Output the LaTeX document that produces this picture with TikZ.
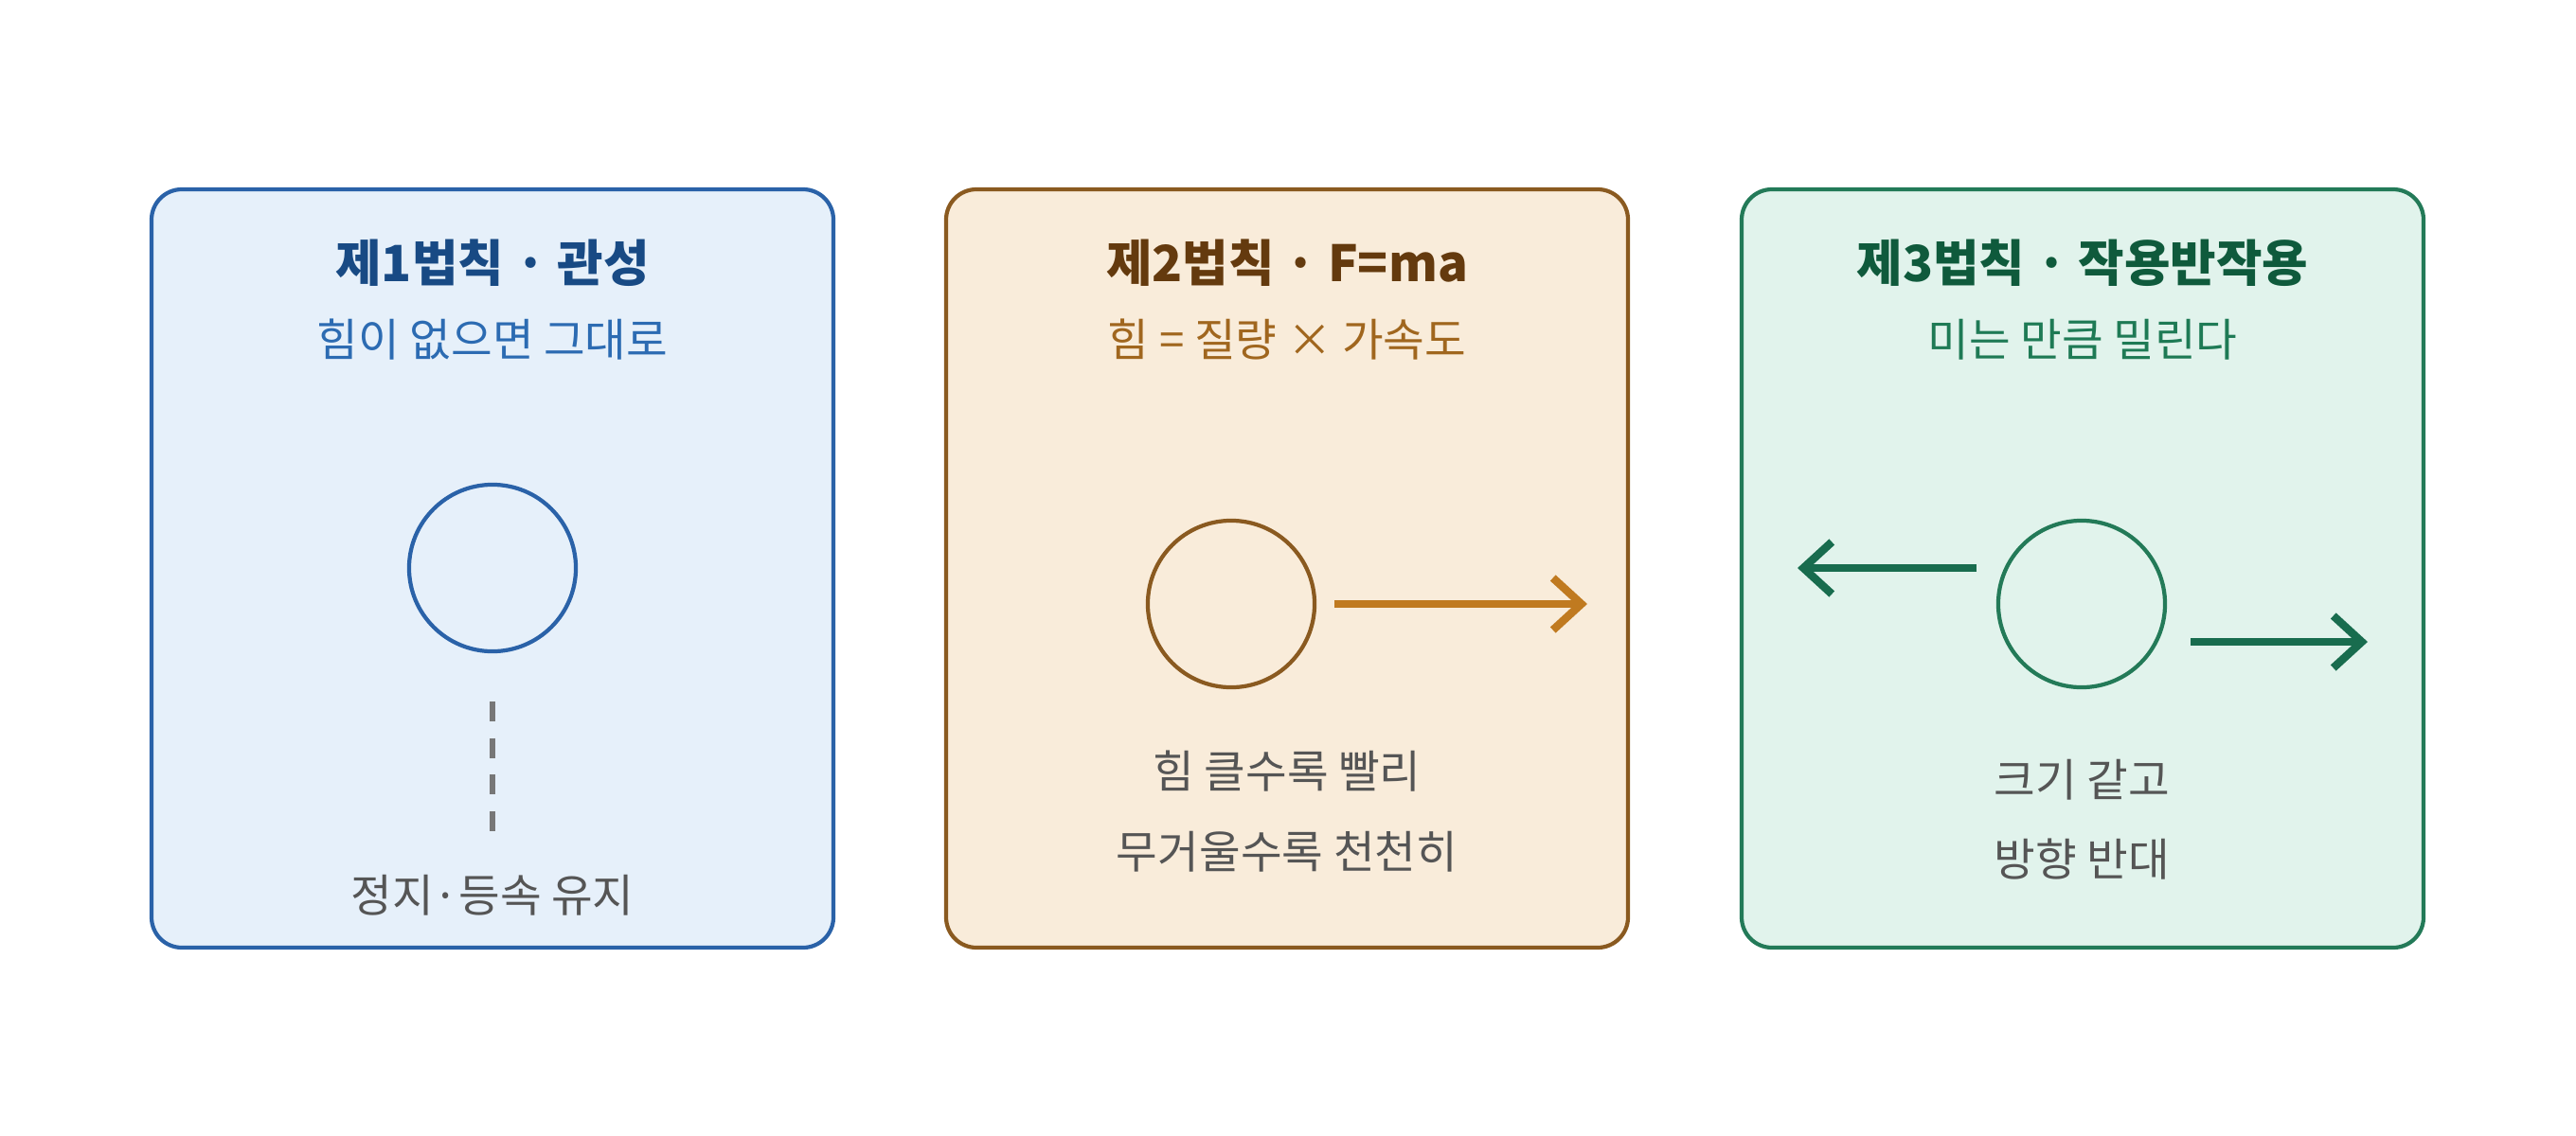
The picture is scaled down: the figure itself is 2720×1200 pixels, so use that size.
\documentclass[tikz,border=0pt]{standalone}
\usepackage{fontspec}
\setmainfont{Noto Sans CJK KR}
\usetikzlibrary{arrows.meta}
\definecolor{blueFrame}{HTML}{2A62A8}
\definecolor{blueFill}{HTML}{E6F0FA}
\definecolor{blueTitle}{HTML}{184A84}
\definecolor{blueSub}{HTML}{2C6BB2}
\definecolor{brownFrame}{HTML}{8A5A20}
\definecolor{brownFill}{HTML}{F9ECDA}
\definecolor{brownTitle}{HTML}{643A0E}
\definecolor{brownSub}{HTML}{A0661E}
\definecolor{brownArrow}{HTML}{C07A20}
\definecolor{greenFrame}{HTML}{237A58}
\definecolor{greenFill}{HTML}{E1F3EC}
\definecolor{greenTitle}{HTML}{0F5A3C}
\definecolor{greenSub}{HTML}{1E7A55}
\definecolor{greenArrow}{HTML}{186C4E}
\definecolor{bodyText}{HTML}{555555}
\tikzset{
  panel/.style={draw=#1Frame, fill=#1Fill, line width=1.2pt, rounded corners=0.32cm},
  title/.style={font=\fontsize{15}{18}\selectfont\bfseries, text=#1Title},
  subtitle/.style={font=\fontsize{13.5}{16}\selectfont, text=#1Sub},
  body/.style={font=\fontsize{13.5}{24}\selectfont, text=bodyText, align=center},
  ball/.style={circle, draw=#1Frame, line width=1.2pt, minimum size=1.76cm, inner sep=0pt},
  push/.style={draw=#1Arrow, line width=2.4pt, -{Straight Barb[length=0.3cm,width=0.55cm,line width=2.4pt]}},
}
\begin{document}
\begin{tikzpicture}[x=0.01cm, y=-0.01cm]
  \useasboundingbox (0,0) rectangle (2720,1200);

  % ------ panel 1 ------
  \draw[panel=blue] (160,200) rectangle (880,1001);
  \node[title=blue] (t1) at (520,278) {제1법칙 · 관성};
  \node[subtitle=blue] (s1) at (520,359) {힘이 없으면 그대로};
  \node[ball=blue] (b1) at (520,600) {};
  \coordinate (d1) at (520,741);
  \coordinate (d2) at (520,885);
  \draw[bodyText!80, line width=1.6pt, dash pattern=on 6pt off 5pt] (d1) -- (d2);
  \node[body] (x1) at (520,946) {정지·등속 유지};

  % ------ panel 2 ------
  \draw[panel=brown] (999,200) rectangle (1719,1001);
  \node[title=brown] (t2) at (1359,278) {제2법칙 · F=ma};
  \node[subtitle=brown] (s2) at (1359,359) {힘 = 질량 × 가속도};
  \node[ball=brown] (b2) at (1300,638) {};
  \coordinate (a2) at (1409,638);
  \coordinate (e2) at (1676,638);
  \draw[push=brown] (a2) -- (e2);
  \node[body] (x2) at (1359,857) {힘 클수록 빨리\\무거울수록 천천히};

  % ------ panel 3 ------
  \draw[panel=green] (1839,200) rectangle (2559,1001);
  \node[title=green] (t3) at (2199,278) {제3법칙 · 작용반작용};
  \node[subtitle=green] (s3) at (2199,359) {미는 만큼 밀린다};
  \node[ball=green] (b3) at (2198,638) {};
  \coordinate (l1) at (2087,600);
  \coordinate (l2) at (1898,600);
  \coordinate (r1) at (2313,678);
  \coordinate (r2) at (2500,678);
  \draw[push=green] (l1) -- (l2);
  \draw[push=green] (r1) -- (r2);
  \node[body] (x3) at (2198,866) {크기 같고\\방향 반대};
\end{tikzpicture}
\end{document}
